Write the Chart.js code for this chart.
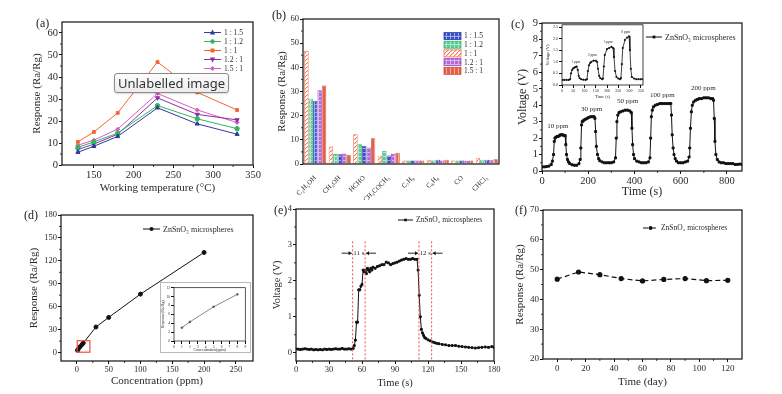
<!DOCTYPE html>
<html>
<head>
<meta charset="utf-8">
<script src="https://cdn.jsdelivr.net/npm/chart.js@4.4.0/dist/chart.umd.min.js"></script>
<style>
  html, body { margin: 0; padding: 0; background: #fff; }
  #fig { position: relative; width: 782px; height: 394px; overflow: hidden; background: #fff; }
  .pane { position: absolute; }
  .pane canvas { display: block; }
  .lab { position: absolute; font-family: "Liberation Serif", serif; font-size: 12px; color: #222; line-height: 12px; }
  #inD { border: 1px solid #b8b8b8; background: #fff; }
  #tip {
    position: absolute; left: 114px; top: 73px; width: 115px; height: 20px; box-sizing: border-box;
    border: 1px solid #8a8a8a; border-radius: 3px; background: linear-gradient(#fdfdfd, #ececec);
    font-family: "Noto Sans", "DejaVu Sans", sans-serif; font-size: 13px; line-height: 18px; color: #333;
    text-align: center; box-shadow: 0 1px 2px rgba(0,0,0,0.15);
  }
</style>
</head>
<body>
<div id="fig">
  <div class="pane" style="left:0;top:0"><canvas id="ca" width="262" height="197"></canvas></div>
  <div class="pane" style="left:262px;top:0"><canvas id="cb" width="258" height="200"></canvas></div>
  <div class="pane" style="left:505px;top:0"><canvas id="cc" width="277" height="200"></canvas></div>
  <div class="pane" style="left:544px;top:20px"><canvas id="cci" width="104" height="80"></canvas></div>
  <div class="pane" style="left:0;top:195px"><canvas id="cd" width="265" height="199"></canvas></div>
  <div class="pane" id="inD" style="left:160px;top:282px"><canvas id="cdi" width="89" height="69"></canvas></div>
  <div class="pane" style="left:262px;top:195px"><canvas id="ce" width="258" height="199"></canvas></div>
  <div class="pane" style="left:512px;top:195px"><canvas id="cf" width="270" height="199"></canvas></div>

  <div class="lab" style="left:36px;top:17px">(a)</div>
  <div class="lab" style="left:272px;top:9px">(b)</div>
  <div class="lab" style="left:511px;top:18px">(c)</div>
  <div class="lab" style="left:24px;top:209px">(d)</div>
  <div class="lab" style="left:274px;top:204px">(e)</div>
  <div class="lab" style="left:515px;top:204px">(f)</div>
  <div id="tip">Unlabelled image</div>
</div>

<script>
const SERIF = '"Liberation Serif", "Times New Roman", serif';
const INK = '#2a2a2a';

// (a) response vs working temperature
const tempC = [130, 150, 180, 230, 280, 330];
const resp_1_15 = [5.8, 8.5, 13.0, 26.0, 18.7, 14.0];
const resp_1_12 = [8.0, 10.5, 14.5, 27.0, 21.0, 16.5];
const resp_1_1 = [10.5, 15.0, 23.7, 46.8, 33.0, 25.0];
const resp_12_1 = [7.0, 9.5, 14.0, 30.5, 23.0, 20.5];
const resp_15_1 = [9.0, 11.3, 16.3, 32.5, 25.0, 19.3];
const xTicksA = [150, 200, 250, 300, 350];
const yTicksA = [0, 10, 20, 30, 40, 50, 60];

// (b) selectivity
const gases = ['C₂H₅OH', 'CH₃OH', 'HCHO', 'CH₃COCH₃', 'C₇H₈', 'C₆H₆', 'CO', 'CHCl₃'];
const gas_1_1 = [46.8, 7.2, 12.3, 3.4, 1.5, 1.8, 1.5, 2.6];
const gas_1_12 = [27.0, 4.1, 8.2, 5.4, 1.4, 1.5, 1.4, 1.8];
const gas_1_15 = [26.2, 4.0, 7.6, 3.5, 1.5, 1.8, 1.5, 1.8];
const gas_12_1 = [30.5, 4.3, 6.8, 4.2, 1.4, 1.5, 1.3, 1.6];
const gas_15_1 = [32.5, 3.8, 10.7, 4.7, 1.5, 1.8, 1.5, 2.0];
const yTicksB = [0, 10, 20, 30, 40, 50, 60];

// (c) dynamic response, 10-200 ppm
const timeC = [0, 10, 20, 30, 40, 45, 50, 53, 56, 60, 65, 70, 75, 80, 85, 90, 95, 100, 103, 106,
  110, 115, 120, 130, 140, 150, 160, 165, 168, 171, 174, 178, 182, 188, 195, 202, 210, 218, 225, 229,
  232, 235, 240, 245, 250, 260, 270, 280, 290, 300, 310, 318, 321, 324, 328, 333, 340, 350, 360, 370,
  380, 386, 389, 392, 396, 400, 410, 420, 430, 440, 450, 460, 467, 470, 473, 477, 482, 490, 500, 510,
  520, 530, 540, 550, 557, 560, 563, 567, 571, 576, 582, 590, 600, 610, 620, 630, 636, 639, 642, 646,
  650, 656, 664, 672, 680, 690, 700, 710, 720, 730, 738, 742, 745, 748, 752, 758, 766, 775, 785, 795,
  805, 815, 825, 835, 845, 855, 865];
const voltC = [0.25, 0.25, 0.27, 0.3, 0.4, 0.6, 1.0, 1.8, 2.0, 2.05, 2.1, 2.1, 2.15, 2.2, 2.2, 2.2, 2.15, 2.15, 1.6, 1.0,
  0.7, 0.55, 0.45, 0.38, 0.35, 0.35, 0.45, 0.7, 1.4, 2.8, 3.0, 3.05, 3.1, 3.15, 3.2, 3.25, 3.3, 3.3, 3.3, 3.2,
  2.4, 1.5, 1.0, 0.75, 0.62, 0.55, 0.5, 0.5, 0.5, 0.5, 0.55, 0.8, 2.0, 3.0, 3.4, 3.55, 3.6, 3.65, 3.7, 3.7,
  3.65, 3.55, 2.6, 1.6, 1.0, 0.75, 0.6, 0.55, 0.5, 0.5, 0.5, 0.55, 0.8, 2.0, 3.3, 3.7, 3.9, 4.0, 4.05, 4.1,
  4.1, 4.1, 4.1, 4.1, 4.1, 3.4, 2.2, 1.4, 1.0, 0.75, 0.6, 0.5, 0.5, 0.5, 0.55, 0.6, 0.85, 1.4, 2.6, 3.6,
  4.0, 4.2, 4.3, 4.35, 4.4, 4.4, 4.45, 4.45, 4.45, 4.4, 4.4, 4.3, 3.2, 1.8, 1.0, 0.7, 0.55, 0.5, 0.5, 0.45,
  0.45, 0.45, 0.45, 0.4, 0.4, 0.42, 0.4];
const xTicksC = [0, 200, 400, 600, 800];
const yTicksC = [0, 1, 2, 3, 4, 5, 6, 7, 8, 9];
const ppmC = [['10 ppm', 68, 2.75], ['30 ppm', 214, 3.75], ['50 ppm', 370, 4.25], ['100 ppm', 520, 4.6], ['200 ppm', 698, 5.05]];

// (c) inset, 1-8 ppm
const timeCi = [0, 10, 20, 30, 36, 40, 45, 50, 55, 60, 65, 70, 74, 78, 85, 95, 105, 111, 115, 120,
  125, 130, 140, 150, 156, 160, 165, 170, 178, 182, 186, 190, 200, 210, 220, 227, 231, 236, 242, 250,
  258, 262, 266, 270, 280, 290, 298, 302, 306, 310, 320, 330, 340, 350, 360];
const voltCi = [0.22, 0.22, 0.22, 0.22, 0.25, 0.5, 0.65, 0.72, 0.75, 0.78, 0.8, 0.65, 0.4, 0.3, 0.25, 0.23, 0.22, 0.25, 0.6, 0.85,
  0.95, 1.0, 1.05, 1.05, 1.0, 0.7, 0.4, 0.3, 0.25, 0.28, 0.8, 1.3, 1.55, 1.6, 1.65, 1.6, 1.2, 0.6, 0.35, 0.28,
  0.25, 0.3, 0.9, 1.6, 1.95, 2.05, 2.1, 1.5, 0.7, 0.35, 0.28, 0.25, 0.25, 0.25, 0.25];
const xTicksCi = [0, 50, 100, 150, 200, 250, 300, 350];
const yTicksCi = [0, 0.5, 1.0, 1.5, 2.0, 2.5];
const ppmCi = [['1 ppm', 61, 0.98], ['2 ppm', 135, 1.28], ['5 ppm', 205, 1.85], ['8 ppm', 283, 2.3]];

// (d) response vs concentration
const concD = [1, 2, 5, 8, 10, 30, 50, 100, 200];
const respD = [3.0, 4.3, 7.7, 10.5, 12.5, 33.5, 46.0, 76.5, 131.0];
const xTicksD = [0, 50, 100, 150, 200, 250];
const yTicksD = [0, 30, 60, 90, 120, 150, 180];
const concDi = [1, 2, 5, 8];
const respDi = [3.0, 4.3, 7.7, 10.5];
const xTicksDi = [0, 1, 2, 3, 4, 5, 6, 7, 8, 9];
const yTicksDi = [0, 2, 4, 6, 8, 10, 12];

// (e) response / recovery
const timeE = [0, 2, 4, 6, 8, 10, 12, 14, 16, 18, 20, 22, 24, 26, 28, 30, 32, 34, 36, 38,
  40, 42, 44, 46, 48, 50, 52, 53, 54, 55, 56, 57, 58, 59, 60, 61, 62, 63, 64, 65,
  66, 67, 68, 69, 70, 72, 74, 76, 78, 80, 82, 84, 86, 88, 90, 92, 94, 96, 98, 100,
  102, 104, 106, 108, 110, 111, 112, 113, 114, 115, 116, 117, 118, 120, 122, 124, 126, 128, 130, 133,
  136, 139, 142, 145, 148, 151, 154, 157, 160, 163, 166, 169, 172, 175, 178, 180];
const voltE = [0.1, 0.1, 0.09, 0.1, 0.11, 0.1, 0.09, 0.1, 0.08, 0.09, 0.08, 0.09, 0.08, 0.1, 0.09, 0.1, 0.09, 0.1, 0.11, 0.1,
  0.1, 0.12, 0.1, 0.1, 0.11, 0.1, 0.12, 0.2, 0.35, 0.85, 0.85, 1.75, 1.75, 1.85, 1.9, 2.3, 2.25, 2.3, 2.2, 2.35,
  2.3, 2.25, 2.35, 2.3, 2.38, 2.35, 2.4, 2.42, 2.45, 2.45, 2.52, 2.5, 2.45, 2.48, 2.5, 2.52, 2.55, 2.58, 2.6, 2.62,
  2.6, 2.6, 2.62, 2.6, 2.6, 2.3, 1.6, 1.0, 0.65, 0.55, 0.48, 0.42, 0.4, 0.36, 0.33, 0.3, 0.28, 0.26, 0.25, 0.23,
  0.22, 0.2, 0.2, 0.2, 0.18, 0.17, 0.16, 0.15, 0.14, 0.13, 0.14, 0.15, 0.16, 0.15, 0.17, 0.15];
const xTicksE = [0, 30, 60, 90, 120, 150, 180];
const yTicksE = [0, 1, 2, 3, 4];
const tauLines = [51.5, 62.8, 111.8, 123.3];
const tauSpans = [[51.5, 62.8, '11 s'], [111.8, 123.3, '12 s']];

// (f) long-term stability
const dayF = [0, 15, 30, 45, 60, 75, 90, 105, 120];
const respF = [46.8, 49.2, 48.3, 47.0, 46.2, 46.7, 47.0, 46.3, 46.4];
const xTicksF = [0, 20, 40, 60, 80, 100, 120];
const yTicksF = [20, 30, 40, 50, 60, 70];

const zns = 'ZnSnO₃ microspheres';

// ---------- helpers ----------
function pts(xs, ys) { return xs.map((x, i) => ({ x: x, y: ys[i] })); }

function drawMark(ctx, style, rot, x, y, r, color) {
  ctx.save();
  ctx.fillStyle = color;
  ctx.translate(x, y);
  ctx.rotate((rot || 0) * Math.PI / 180);
  ctx.beginPath();
  if (style === 'rect') ctx.rect(-r, -r, 2 * r, 2 * r);
  else if (style === 'triangle') { ctx.moveTo(0, -r * 1.2); ctx.lineTo(r * 1.1, r * 0.8); ctx.lineTo(-r * 1.1, r * 0.8); ctx.closePath(); }
  else if (style === 'rectRot') { ctx.moveTo(0, -r * 1.3); ctx.lineTo(r * 1.3, 0); ctx.lineTo(0, r * 1.3); ctx.lineTo(-r * 1.3, 0); ctx.closePath(); }
  else ctx.arc(0, 0, r, 0, Math.PI * 2);
  ctx.fill();
  ctx.restore();
}

function hatch(bg, fg, kind) {
  const c = document.createElement('canvas');
  c.width = c.height = 4;
  const g = c.getContext('2d');
  g.fillStyle = bg; g.fillRect(0, 0, 4, 4);
  g.fillStyle = fg;
  if (kind === 'grid') { g.fillRect(0, 0, 4, 1); g.fillRect(0, 0, 1, 4); }
  else if (kind === 'vert') { g.fillRect(0, 0, 1, 4); }
  else if (kind === 'diag') { for (let i = 0; i < 4; i++) g.fillRect(3 - i, i, 1.4, 1); }
  return g.createPattern(c, 'repeat');
}

function linAxis(min, max, ticks, title, box, tickSize, titleSize, titlePad, fmt) {
  return {
    type: 'linear', min: min, max: max,
    afterBuildTicks: s => { s.ticks = ticks.map(v => ({ value: v })); },
    afterFit: s => { if (s.isHorizontal()) s.height = box; else s.width = box; },
    border: { display: false },
    grid: { drawOnChartArea: false, drawTicks: true, tickLength: 3, color: '#111', tickWidth: 1 },
    ticks: {
      color: INK, font: { family: SERIF, size: tickSize }, padding: 1, maxRotation: 0, autoSkip: false,
      callback: fmt || (v => String(v))
    },
    title: { display: !!title, text: title, color: INK, font: { family: SERIF, size: titleSize }, padding: { top: titlePad, bottom: titlePad } }
  };
}

function lineSet(xs, ys, label, color, style, rot, r, extra) {
  return Object.assign({
    label: label, data: pts(xs, ys), borderColor: color, backgroundColor: color,
    pointBackgroundColor: color, pointBorderColor: color, pointStyle: style, pointRotation: rot || 0,
    pointRadius: r, borderWidth: 1, tension: 0
  }, extra || {});
}

// ---------- plugins ----------
const framePlugin = {
  id: 'frame',
  afterDraw(chart, args, o) {
    const { ctx, chartArea: a } = chart;
    ctx.save();
    ctx.strokeStyle = '#111';
    ctx.lineWidth = o.lw || 1.2;
    ctx.strokeRect(a.left, a.top, a.right - a.left, a.bottom - a.top);
    if (o.minor !== false) {
      ctx.lineWidth = 0.8;
      ['x', 'y'].forEach(id => {
        const s = chart.scales[id];
        if (!s || s.type !== 'linear') return;
        const t = s.ticks;
        for (let i = 0; i < t.length - 1; i++) {
          const p = s.getPixelForValue((t[i].value + t[i + 1].value) / 2);
          ctx.beginPath();
          if (id === 'x') { ctx.moveTo(p, a.bottom); ctx.lineTo(p, a.bottom + 2); }
          else { ctx.moveTo(a.left, p); ctx.lineTo(a.left - 2, p); }
          ctx.stroke();
        }
      });
    }
    ctx.restore();
  }
};

const boxLegend = {
  id: 'boxLegend',
  afterDraw(chart, args, o) {
    if (!o || o.x === undefined) return;
    const ctx = chart.ctx;
    const dss = chart.data.datasets;
    const order = o.order || dss.map((d, i) => i);
    const w = o.lineW || 16;
    ctx.save();
    ctx.font = (o.size || 8) + 'px ' + SERIF;
    ctx.textBaseline = 'middle';
    order.forEach((di, k) => {
      const d = dss[di];
      const y = o.y + k * (o.rowH || 9);
      if (o.bar) {
        ctx.fillStyle = d.backgroundColor; ctx.fillRect(o.x, y - 3.5, w, 7);
        ctx.strokeStyle = d.borderColor; ctx.lineWidth = 0.8; ctx.strokeRect(o.x, y - 3.5, w, 7);
      } else {
        ctx.strokeStyle = d.borderColor; ctx.lineWidth = 1;
        ctx.setLineDash(d.borderDash || []);
        ctx.beginPath(); ctx.moveTo(o.x, y); ctx.lineTo(o.x + w, y); ctx.stroke();
        ctx.setLineDash([]);
        drawMark(ctx, d.pointStyle, d.pointRotation, o.x + w / 2, y, d.pointRadius, d.borderColor);
      }
      ctx.fillStyle = INK;
      ctx.fillText(d.label, o.x + w + 3, y + 0.5);
    });
    ctx.restore();
  }
};

const notes = {
  id: 'notes',
  afterDatasetsDraw(chart, args, o) {
    if (!o || !o.items) return;
    const { ctx, scales: { x, y } } = chart;
    ctx.save();
    ctx.fillStyle = INK; ctx.textAlign = 'center'; ctx.textBaseline = 'middle';
    ctx.font = (o.size || 7) + 'px ' + SERIF;
    o.items.forEach(it => ctx.fillText(it[0], x.getPixelForValue(it[1]), y.getPixelForValue(it[2])));
    ctx.restore();
  }
};

function arrow(ctx, x0, x1, y) {
  ctx.beginPath(); ctx.moveTo(x0, y); ctx.lineTo(x1, y); ctx.stroke();
  const d = x1 > x0 ? -1 : 1;
  ctx.beginPath(); ctx.moveTo(x1, y); ctx.lineTo(x1 + d * 3, y - 2); ctx.lineTo(x1 + d * 3, y + 2); ctx.closePath(); ctx.fill();
}

const tauMarks = {
  id: 'tauMarks',
  afterDatasetsDraw(chart, args, o) {
    if (!o || !o.lines) return;
    const { ctx, scales: { x, y }, chartArea: a } = chart;
    ctx.save();
    ctx.strokeStyle = '#e0504a'; ctx.lineWidth = 1; ctx.setLineDash([2, 2]);
    o.lines.forEach(v => {
      const px = x.getPixelForValue(v);
      ctx.beginPath(); ctx.moveTo(px, y.getPixelForValue(o.top)); ctx.lineTo(px, a.bottom); ctx.stroke();
    });
    ctx.setLineDash([]);
    ctx.strokeStyle = '#111'; ctx.fillStyle = '#111'; ctx.lineWidth = 0.9;
    const py = y.getPixelForValue(o.arrowY);
    ctx.font = '7px ' + SERIF; ctx.textBaseline = 'middle'; ctx.textAlign = 'center';
    o.spans.forEach(s => {
      const pa = x.getPixelForValue(s[0]), pb = x.getPixelForValue(s[1]);
      arrow(ctx, pa - 11, pa - 1, py);
      arrow(ctx, pb + 11, pb + 1, py);
      ctx.fillStyle = INK;
      ctx.fillText(s[2], (pa + pb) / 2, py);
      ctx.fillStyle = '#111';
    });
    ctx.restore();
  }
};

const zoomBox = {
  id: 'zoomBox',
  afterDatasetsDraw(chart, args, o) {
    if (!o || o.x0 === undefined) return;
    const { ctx, scales: { x, y } } = chart;
    const l = x.getPixelForValue(o.x0), r = x.getPixelForValue(o.x1);
    const t = y.getPixelForValue(o.y1), b = y.getPixelForValue(o.y0);
    ctx.save(); ctx.strokeStyle = '#e8503c'; ctx.lineWidth = 1.2;
    ctx.strokeRect(l, t, r - l, b - t);
    ctx.restore();
  }
};

Chart.register(framePlugin, boxLegend, notes, tauMarks, zoomBox);
Chart.defaults.font.family = SERIF;
Chart.defaults.color = INK;

function base(padding, scales, plugins) {
  return {
    responsive: false, animation: false, events: [],
    layout: { padding: padding },
    scales: scales,
    plugins: Object.assign({ legend: { display: false }, tooltip: { enabled: false } }, plugins || {})
  };
}

// ---------- (a) ----------
new Chart(document.getElementById('ca'), {
  type: 'line',
  data: {
    datasets: [
      lineSet(tempC, resp_1_15, '1 : 1.5', '#2f3b9e', 'triangle', 0, 2.4),
      lineSet(tempC, resp_1_12, '1 : 1.2', '#2fb65e', 'circle', 0, 2.2),
      lineSet(tempC, resp_1_1, '1 : 1', '#f2662e', 'rect', 0, 2.0),
      lineSet(tempC, resp_12_1, '1.2 : 1', '#8c2ea4', 'triangle', 180, 2.4),
      lineSet(tempC, resp_15_1, '1.5 : 1', '#d85cc6', 'rectRot', 0, 2.0)
    ]
  },
  options: base({ top: 22, right: 9, left: 0, bottom: 0 }, {
    x: linAxis(110, 350, xTicksA, 'Working temperature (°C)', 32, 10.5, 11, 2),
    y: linAxis(0, 65, yTicksA, 'Response (Ra/Rg)', 62, 10.5, 11, 31)
  }, { boxLegend: { x: 204, y: 32.5, rowH: 9, lineW: 17, size: 7.5 } })
});

// ---------- (b) ----------
const fillB = [
  hatch('#ffffff', '#f07a5c', 'diag'),
  hatch('#5ccb92', '#b2ebcc', 'grid'),
  hatch('#3c4fc6', '#9fabef', 'grid'),
  hatch('#b46ad6', '#dcb0ee', 'grid'),
  hatch('#e2604c', '#f4ad9c', 'vert')
];
const edgeB = ['#f06c4c', '#3fb878', '#2c3ea8', '#9a4cc0', '#d04a36'];
function barSet(vals, label, i) {
  return { label: label, data: vals, backgroundColor: fillB[i], borderColor: edgeB[i], borderWidth: 0.8 };
}
new Chart(document.getElementById('cb'), {
  type: 'bar',
  data: {
    labels: gases,
    datasets: [
      barSet(gas_1_1, '1 : 1', 0),
      barSet(gas_1_12, '1 : 1.2', 1),
      barSet(gas_1_15, '1 : 1.5', 2),
      barSet(gas_12_1, '1.2 : 1', 3),
      barSet(gas_15_1, '1.5 : 1', 4)
    ]
  },
  options: Object.assign(base({ top: 19, right: 21, left: 0, bottom: 0 }, {
    x: {
      type: 'category', offset: true,
      afterFit: s => { s.height = 36; },
      border: { display: false }, grid: { display: false },
      ticks: { color: INK, font: { family: SERIF, size: 7 }, minRotation: 45, maxRotation: 45, autoSkip: false, padding: 2 }
    },
    y: linAxis(0, 60, yTicksB, 'Response (Ra/Rg)', 41, 8.5, 11, 14)
  }, { boxLegend: { x: 182, y: 36, rowH: 8.7, lineW: 17, size: 7.5, bar: true, order: [2, 1, 0, 3, 4] } }), {
    datasets: { bar: { categoryPercentage: 0.9, barPercentage: 1.0 } }
  })
});

// ---------- (c) ----------
new Chart(document.getElementById('cc'), {
  type: 'line',
  data: { datasets: [lineSet(timeC, voltC, zns, '#111', 'rect', 0, 1.4)] },
  options: base({ top: 23, right: 40, left: 0, bottom: 1 }, {
    x: linAxis(0, 865, xTicksC, 'Time (s)', 28, 10.5, 12, 0),
    y: linAxis(0, 9, yTicksC, 'Voltage (V)', 37, 10.5, 12, 11)
  }, {
    boxLegend: { x: 141, y: 37, lineW: 16, size: 8 },
    notes: { items: ppmC, size: 7 }
  })
});

new Chart(document.getElementById('cci'), {
  type: 'line',
  data: { datasets: [lineSet(timeCi, voltCi, zns, '#111', 'rect', 0, 0.8, { borderWidth: 0.8 })] },
  options: base({ top: 4, right: 5, left: 0, bottom: 0 }, {
    x: linAxis(0, 360, xTicksCi, 'Time (s)', 15, 4, 4.5, 0),
    y: linAxis(0, 2.6, yTicksCi, 'Voltage (V)', 18, 4, 4.5, 1, v => v.toFixed(1))
  }, {
    frame: { lw: 0.8, minor: false },
    notes: { items: ppmCi, size: 3.5 }
  })
});

// ---------- (d) ----------
new Chart(document.getElementById('cd'), {
  type: 'line',
  data: { datasets: [lineSet(concD, respD, zns, '#111', 'circle', 0, 2.0)] },
  options: base({ top: 20, right: 12, left: 0, bottom: 0 }, {
    x: linAxis(-25, 277, xTicksD, 'Concentration (ppm)', 33, 8.5, 11, 6),
    y: linAxis(-11, 180, yTicksD, 'Response (Ra/Rg)', 61, 8.5, 11, 28)
  }, {
    boxLegend: { x: 143, y: 34, lineW: 17, size: 8 },
    zoomBox: { x0: 0.5, x1: 20.5, y0: 0.5, y1: 15.5 }
  })
});

new Chart(document.getElementById('cdi'), {
  type: 'line',
  data: { datasets: [lineSet(concDi, respDi, zns, '#555', 'circle', 0, 0.9, { borderWidth: 0.7 })] },
  options: base({ top: 2, right: 2, left: 0, bottom: 0 }, {
    x: linAxis(0, 9, xTicksDi, 'Concentration(ppm)', 11, 3.5, 4, 0),
    y: linAxis(0, 12, yTicksDi, 'Response(Ra/Rg)', 13, 3.5, 4, 0)
  }, { frame: { lw: 0.7, minor: false } })
});

// ---------- (e) ----------
new Chart(document.getElementById('ce'), {
  type: 'line',
  data: { datasets: [lineSet(timeE, voltE, zns, '#111', 'rect', 0, 1.3)] },
  options: base({ top: 14, right: 26, left: 0, bottom: 0 }, {
    x: linAxis(0, 180, xTicksE, 'Time (s)', 33, 8.5, 10.5, 4),
    y: linAxis(-0.23, 4, yTicksE, 'Voltage (V)', 34, 8.5, 10.5, 9)
  }, {
    boxLegend: { x: 136, y: 25, lineW: 15, size: 7.5 },
    tauMarks: { lines: tauLines, spans: tauSpans, top: 3.1, arrowY: 2.77 }
  })
});

// ---------- (f) ----------
new Chart(document.getElementById('cf'), {
  type: 'line',
  data: { datasets: [lineSet(dayF, respF, zns, '#111', 'circle', 0, 2.0, { borderDash: [5, 3], borderWidth: 1.2 })] },
  options: base({ top: 15, right: 40, left: 0, bottom: 0 }, {
    x: linAxis(-10, 130, xTicksF, 'Time (day)', 35, 9, 11, 5),
    y: linAxis(20, 70, yTicksF, 'Response (Ra/Rg)', 31, 9, 11, 2)
  }, { boxLegend: { x: 131, y: 33, lineW: 15, size: 7.5 } })
});
</script>
</body>
</html>
